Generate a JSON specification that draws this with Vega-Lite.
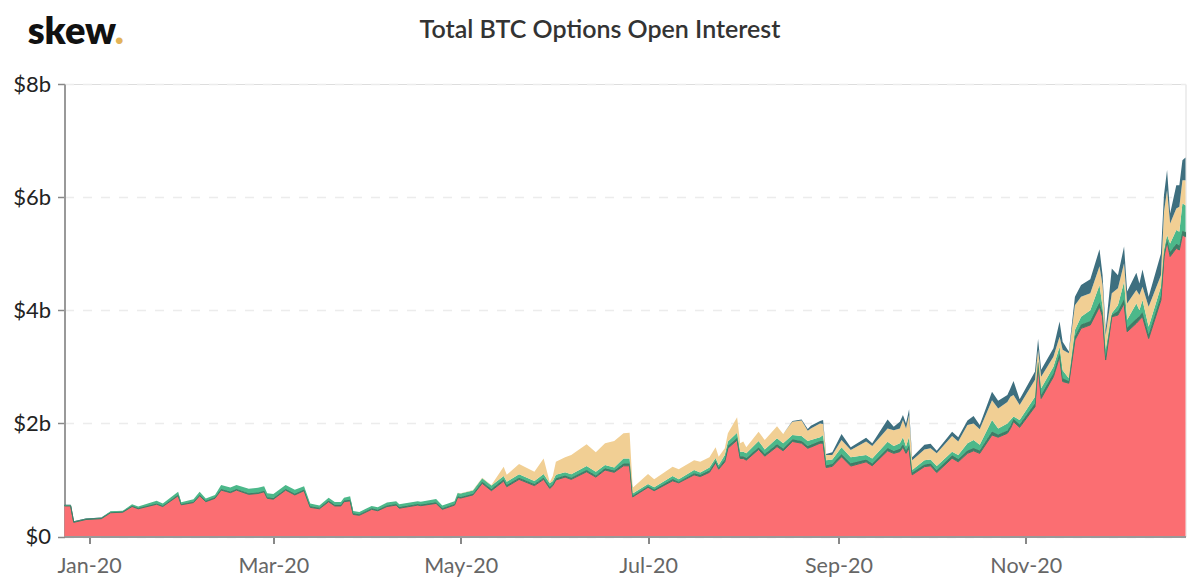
{
  "$schema": "https://vega.github.io/schema/vega-lite/v6.json",
  "background": "white",
  "autosize": "none",
  "padding": {"left": 64.5, "top": 84, "right": 14.5, "bottom": 49.5},
  "width": 1121,
  "height": 452.5,
  "title": {
    "text": "Total BTC Options Open Interest",
    "anchor": "middle",
    "frame": "group",
    "dx": -25,
    "offset": -49,
    "baseline": "alphabetic",
    "font": "Lato",
    "fontSize": 25,
    "fontWeight": 600,
    "color": "#333333"
  },
  "datasets": {
    "openInterest": [
      {"date":"2019-12-24","layer1":0.54,"layer2":0.01,"layer3":0.005,"layer4":0,"layer5":0.005},
      {"date":"2019-12-26","layer1":0.54,"layer2":0.01,"layer3":0.005,"layer4":0,"layer5":0.005},
      {"date":"2019-12-27","layer1":0.25,"layer2":0.01,"layer3":0.005,"layer4":0,"layer5":0.005},
      {"date":"2019-12-31","layer1":0.30,"layer2":0.01,"layer3":0.005,"layer4":0,"layer5":0.005},
      {"date":"2020-01-05","layer1":0.315,"layer2":0.01,"layer3":0.005,"layer4":0,"layer5":0.005},
      {"date":"2020-01-08","layer1":0.42,"layer2":0.01,"layer3":0.015,"layer4":0,"layer5":0},
      {"date":"2020-01-12","layer1":0.43,"layer2":0.01,"layer3":0.015,"layer4":0,"layer5":0},
      {"date":"2020-01-15","layer1":0.53,"layer2":0.015,"layer3":0.025,"layer4":0,"layer5":0},
      {"date":"2020-01-17","layer1":0.49,"layer2":0.015,"layer3":0.025,"layer4":0,"layer5":0},
      {"date":"2020-01-23","layer1":0.57,"layer2":0.015,"layer3":0.045,"layer4":0,"layer5":0},
      {"date":"2020-01-25","layer1":0.53,"layer2":0.015,"layer3":0.04,"layer4":0,"layer5":0},
      {"date":"2020-01-30","layer1":0.72,"layer2":0.02,"layer3":0.05,"layer4":0,"layer5":0},
      {"date":"2020-01-31","layer1":0.56,"layer2":0.015,"layer3":0.03,"layer4":0,"layer5":0},
      {"date":"2020-02-04","layer1":0.60,"layer2":0.015,"layer3":0.045,"layer4":0,"layer5":0},
      {"date":"2020-02-06","layer1":0.72,"layer2":0.02,"layer3":0.05,"layer4":0,"layer5":0},
      {"date":"2020-02-08","layer1":0.615,"layer2":0.015,"layer3":0.04,"layer4":0,"layer5":0},
      {"date":"2020-02-11","layer1":0.675,"layer2":0.02,"layer3":0.04,"layer4":0,"layer5":0},
      {"date":"2020-02-13","layer1":0.82,"layer2":0.02,"layer3":0.07,"layer4":0,"layer5":0},
      {"date":"2020-02-16","layer1":0.775,"layer2":0.02,"layer3":0.07,"layer4":0,"layer5":0},
      {"date":"2020-02-18","layer1":0.82,"layer2":0.02,"layer3":0.07,"layer4":0,"layer5":0},
      {"date":"2020-02-22","layer1":0.745,"layer2":0.02,"layer3":0.08,"layer4":0,"layer5":0},
      {"date":"2020-02-25","layer1":0.76,"layer2":0.02,"layer3":0.08,"layer4":0,"layer5":0},
      {"date":"2020-02-27","layer1":0.79,"layer2":0.02,"layer3":0.08,"layer4":0,"layer5":0},
      {"date":"2020-02-28","layer1":0.675,"layer2":0.02,"layer3":0.07,"layer4":0,"layer5":0},
      {"date":"2020-03-01","layer1":0.66,"layer2":0.02,"layer3":0.07,"layer4":0,"layer5":0},
      {"date":"2020-03-05","layer1":0.82,"layer2":0.02,"layer3":0.07,"layer4":0,"layer5":0},
      {"date":"2020-03-08","layer1":0.735,"layer2":0.02,"layer3":0.07,"layer4":0,"layer5":0},
      {"date":"2020-03-11","layer1":0.81,"layer2":0.02,"layer3":0.06,"layer4":0,"layer5":0},
      {"date":"2020-03-13","layer1":0.515,"layer2":0.02,"layer3":0.05,"layer4":0,"layer5":0},
      {"date":"2020-03-16","layer1":0.49,"layer2":0.02,"layer3":0.04,"layer4":0,"layer5":0},
      {"date":"2020-03-19","layer1":0.615,"layer2":0.02,"layer3":0.05,"layer4":0,"layer5":0},
      {"date":"2020-03-21","layer1":0.54,"layer2":0.02,"layer3":0.05,"layer4":0,"layer5":0},
      {"date":"2020-03-23","layer1":0.54,"layer2":0.02,"layer3":0.05,"layer4":0,"layer5":0},
      {"date":"2020-03-24","layer1":0.615,"layer2":0.02,"layer3":0.05,"layer4":0,"layer5":0},
      {"date":"2020-03-26","layer1":0.63,"layer2":0.02,"layer3":0.06,"layer4":0,"layer5":0},
      {"date":"2020-03-27","layer1":0.39,"layer2":0.02,"layer3":0.04,"layer4":0,"layer5":0},
      {"date":"2020-03-29","layer1":0.375,"layer2":0.02,"layer3":0.04,"layer4":0,"layer5":0},
      {"date":"2020-04-02","layer1":0.48,"layer2":0.02,"layer3":0.04,"layer4":0,"layer5":0},
      {"date":"2020-04-04","layer1":0.455,"layer2":0.02,"layer3":0.04,"layer4":0,"layer5":0},
      {"date":"2020-04-07","layer1":0.53,"layer2":0.02,"layer3":0.05,"layer4":0,"layer5":0},
      {"date":"2020-04-10","layer1":0.555,"layer2":0.02,"layer3":0.05,"layer4":0,"layer5":0},
      {"date":"2020-04-11","layer1":0.50,"layer2":0.02,"layer3":0.05,"layer4":0,"layer5":0},
      {"date":"2020-04-17","layer1":0.555,"layer2":0.02,"layer3":0.05,"layer4":0,"layer5":0},
      {"date":"2020-04-18","layer1":0.545,"layer2":0.02,"layer3":0.05,"layer4":0,"layer5":0},
      {"date":"2020-04-23","layer1":0.585,"layer2":0.02,"layer3":0.06,"layer4":0,"layer5":0},
      {"date":"2020-04-25","layer1":0.48,"layer2":0.02,"layer3":0.05,"layer4":0,"layer5":0},
      {"date":"2020-04-29","layer1":0.555,"layer2":0.02,"layer3":0.05,"layer4":0,"layer5":0},
      {"date":"2020-04-30","layer1":0.69,"layer2":0.02,"layer3":0.06,"layer4":0.005,"layer5":0},
      {"date":"2020-05-01","layer1":0.68,"layer2":0.02,"layer3":0.06,"layer4":0.005,"layer5":0},
      {"date":"2020-05-05","layer1":0.735,"layer2":0.02,"layer3":0.06,"layer4":0.005,"layer5":0},
      {"date":"2020-05-08","layer1":0.94,"layer2":0.03,"layer3":0.06,"layer4":0.01,"layer5":0},
      {"date":"2020-05-11","layer1":0.81,"layer2":0.03,"layer3":0.06,"layer4":0.01,"layer5":0},
      {"date":"2020-05-15","layer1":0.98,"layer2":0.03,"layer3":0.06,"layer4":0.165,"layer5":0},
      {"date":"2020-05-16","layer1":0.88,"layer2":0.03,"layer3":0.06,"layer4":0.12,"layer5":0},
      {"date":"2020-05-20","layer1":1.01,"layer2":0.03,"layer3":0.06,"layer4":0.18,"layer5":0},
      {"date":"2020-05-25","layer1":0.90,"layer2":0.03,"layer3":0.05,"layer4":0.165,"layer5":0},
      {"date":"2020-05-28","layer1":1.01,"layer2":0.03,"layer3":0.065,"layer4":0.275,"layer5":0},
      {"date":"2020-05-30","layer1":0.85,"layer2":0.03,"layer3":0.06,"layer4":0.02,"layer5":0},
      {"date":"2020-05-31","layer1":0.90,"layer2":0.03,"layer3":0.05,"layer4":0.09,"layer5":0},
      {"date":"2020-06-01","layer1":1.0,"layer2":0.03,"layer3":0.06,"layer4":0.23,"layer5":0},
      {"date":"2020-06-04","layer1":1.05,"layer2":0.03,"layer3":0.055,"layer4":0.265,"layer5":0},
      {"date":"2020-06-06","layer1":1.01,"layer2":0.03,"layer3":0.06,"layer4":0.34,"layer5":0},
      {"date":"2020-06-11","layer1":1.145,"layer2":0.03,"layer3":0.07,"layer4":0.385,"layer5":0},
      {"date":"2020-06-14","layer1":1.05,"layer2":0.03,"layer3":0.065,"layer4":0.345,"layer5":0},
      {"date":"2020-06-17","layer1":1.175,"layer2":0.03,"layer3":0.06,"layer4":0.385,"layer5":0},
      {"date":"2020-06-20","layer1":1.135,"layer2":0.03,"layer3":0.055,"layer4":0.47,"layer5":0},
      {"date":"2020-06-23","layer1":1.25,"layer2":0.04,"layer3":0.09,"layer4":0.445,"layer5":0},
      {"date":"2020-06-25","layer1":1.25,"layer2":0.04,"layer3":0.09,"layer4":0.455,"layer5":0},
      {"date":"2020-06-26","layer1":0.70,"layer2":0.02,"layer3":0.04,"layer4":0.10,"layer5":0},
      {"date":"2020-07-01","layer1":0.87,"layer2":0.02,"layer3":0.04,"layer4":0.175,"layer5":0},
      {"date":"2020-07-03","layer1":0.81,"layer2":0.02,"layer3":0.04,"layer4":0.14,"layer5":0},
      {"date":"2020-07-09","layer1":0.985,"layer2":0.03,"layer3":0.055,"layer4":0.165,"layer5":0},
      {"date":"2020-07-11","layer1":0.95,"layer2":0.02,"layer3":0.04,"layer4":0.18,"layer5":0},
      {"date":"2020-07-16","layer1":1.09,"layer2":0.03,"layer3":0.055,"layer4":0.175,"layer5":0},
      {"date":"2020-07-18","layer1":1.06,"layer2":0.03,"layer3":0.04,"layer4":0.19,"layer5":0},
      {"date":"2020-07-21","layer1":1.135,"layer2":0.03,"layer3":0.055,"layer4":0.18,"layer5":0},
      {"date":"2020-07-23","layer1":1.305,"layer2":0.03,"layer3":0.055,"layer4":0.19,"layer5":0},
      {"date":"2020-07-24","layer1":1.19,"layer2":0.03,"layer3":0.045,"layer4":0.145,"layer5":0},
      {"date":"2020-07-26","layer1":1.32,"layer2":0.04,"layer3":0.08,"layer4":0.12,"layer5":0},
      {"date":"2020-07-27","layer1":1.56,"layer2":0.04,"layer3":0.08,"layer4":0.145,"layer5":0},
      {"date":"2020-07-30","layer1":1.705,"layer2":0.04,"layer3":0.09,"layer4":0.275,"layer5":0},
      {"date":"2020-07-31","layer1":1.38,"layer2":0.04,"layer3":0.08,"layer4":0.15,"layer5":0},
      {"date":"2020-08-01","layer1":1.38,"layer2":0.04,"layer3":0.08,"layer4":0.18,"layer5":0},
      {"date":"2020-08-02","layer1":1.35,"layer2":0.04,"layer3":0.08,"layer4":0.11,"layer5":0},
      {"date":"2020-08-06","layer1":1.54,"layer2":0.04,"layer3":0.11,"layer4":0.16,"layer5":0},
      {"date":"2020-08-08","layer1":1.42,"layer2":0.04,"layer3":0.08,"layer4":0.165,"layer5":0},
      {"date":"2020-08-12","layer1":1.59,"layer2":0.04,"layer3":0.105,"layer4":0.215,"layer5":0},
      {"date":"2020-08-14","layer1":1.515,"layer2":0.04,"layer3":0.095,"layer4":0.16,"layer5":0},
      {"date":"2020-08-17","layer1":1.68,"layer2":0.04,"layer3":0.075,"layer4":0.235,"layer5":0.01},
      {"date":"2020-08-20","layer1":1.65,"layer2":0.04,"layer3":0.085,"layer4":0.275,"layer5":0.02},
      {"date":"2020-08-22","layer1":1.56,"layer2":0.04,"layer3":0.09,"layer4":0.18,"layer5":0.03},
      {"date":"2020-08-23","layer1":1.58,"layer2":0.04,"layer3":0.085,"layer4":0.205,"layer5":0.05},
      {"date":"2020-08-26","layer1":1.65,"layer2":0.04,"layer3":0.065,"layer4":0.245,"layer5":0.04},
      {"date":"2020-08-27","layer1":1.65,"layer2":0.04,"layer3":0.105,"layer4":0.195,"layer5":0.07},
      {"date":"2020-08-28","layer1":1.22,"layer2":0.04,"layer3":0.09,"layer4":0.09,"layer5":0.02},
      {"date":"2020-08-30","layer1":1.24,"layer2":0.04,"layer3":0.08,"layer4":0.08,"layer5":0.05},
      {"date":"2020-09-02","layer1":1.41,"layer2":0.05,"layer3":0.12,"layer4":0.125,"layer5":0.105},
      {"date":"2020-09-05","layer1":1.245,"layer2":0.05,"layer3":0.105,"layer4":0.13,"layer5":0.05},
      {"date":"2020-09-10","layer1":1.32,"layer2":0.04,"layer3":0.08,"layer4":0.24,"layer5":0.065},
      {"date":"2020-09-12","layer1":1.25,"layer2":0.04,"layer3":0.09,"layer4":0.22,"layer5":0.05},
      {"date":"2020-09-17","layer1":1.515,"layer2":0.05,"layer3":0.11,"layer4":0.235,"layer5":0.16},
      {"date":"2020-09-19","layer1":1.47,"layer2":0.04,"layer3":0.09,"layer4":0.28,"layer5":0.06},
      {"date":"2020-09-21","layer1":1.50,"layer2":0.05,"layer3":0.10,"layer4":0.26,"layer5":0.12},
      {"date":"2020-09-22","layer1":1.58,"layer2":0.05,"layer3":0.125,"layer4":0.305,"layer5":0.09},
      {"date":"2020-09-23","layer1":1.47,"layer2":0.05,"layer3":0.07,"layer4":0.32,"layer5":0.09},
      {"date":"2020-09-24","layer1":1.56,"layer2":0.05,"layer3":0.155,"layer4":0.385,"layer5":0.10},
      {"date":"2020-09-25","layer1":1.09,"layer2":0.04,"layer3":0.045,"layer4":0.175,"layer5":0.05},
      {"date":"2020-09-29","layer1":1.235,"layer2":0.04,"layer3":0.075,"layer4":0.19,"layer5":0.08},
      {"date":"2020-10-01","layer1":1.25,"layer2":0.04,"layer3":0.07,"layer4":0.20,"layer5":0.08},
      {"date":"2020-10-03","layer1":1.13,"layer2":0.04,"layer3":0.075,"layer4":0.225,"layer5":0.045},
      {"date":"2020-10-08","layer1":1.385,"layer2":0.05,"layer3":0.065,"layer4":0.275,"layer5":0.075},
      {"date":"2020-10-10","layer1":1.32,"layer2":0.05,"layer3":0.07,"layer4":0.24,"layer5":0.075},
      {"date":"2020-10-13","layer1":1.47,"layer2":0.05,"layer3":0.13,"layer4":0.32,"layer5":0.08},
      {"date":"2020-10-15","layer1":1.515,"layer2":0.05,"layer3":0.14,"layer4":0.295,"layer5":0.13},
      {"date":"2020-10-17","layer1":1.47,"layer2":0.05,"layer3":0.10,"layer4":0.275,"layer5":0.075},
      {"date":"2020-10-21","layer1":1.795,"layer2":0.06,"layer3":0.205,"layer4":0.35,"layer5":0.15},
      {"date":"2020-10-23","layer1":1.755,"layer2":0.05,"layer3":0.105,"layer4":0.355,"layer5":0.135},
      {"date":"2020-10-26","layer1":1.825,"layer2":0.05,"layer3":0.125,"layer4":0.38,"layer5":0.12},
      {"date":"2020-10-27","layer1":1.91,"layer2":0.05,"layer3":0.10,"layer4":0.41,"layer5":0.15},
      {"date":"2020-10-28","layer1":2.03,"layer2":0.05,"layer3":0.04,"layer4":0.38,"layer5":0.25},
      {"date":"2020-10-30","layer1":1.93,"layer2":0.05,"layer3":0.08,"layer4":0.265,"layer5":0.10},
      {"date":"2020-11-04","layer1":2.295,"layer2":0.06,"layer3":0.115,"layer4":0.30,"layer5":0.145},
      {"date":"2020-11-05","layer1":3.06,"layer2":0.02,"layer3":0.04,"layer4":0.18,"layer5":0.19},
      {"date":"2020-11-06","layer1":2.44,"layer2":0.06,"layer3":0.12,"layer4":0.205,"layer5":0.125},
      {"date":"2020-11-10","layer1":2.825,"layer2":0.06,"layer3":0.115,"layer4":0.18,"layer5":0.15},
      {"date":"2020-11-12","layer1":3.18,"layer2":0.06,"layer3":0.115,"layer4":0.175,"layer5":0.27},
      {"date":"2020-11-13","layer1":2.74,"layer2":0.06,"layer3":0.14,"layer4":0.36,"layer5":0.145},
      {"date":"2020-11-15","layer1":2.71,"layer2":0.04,"layer3":0.05,"layer4":0.44,"layer5":0.03},
      {"date":"2020-11-17","layer1":3.475,"layer2":0.06,"layer3":0.115,"layer4":0.44,"layer5":0.15},
      {"date":"2020-11-19","layer1":3.68,"layer2":0.07,"layer3":0.135,"layer4":0.355,"layer5":0.205},
      {"date":"2020-11-22","layer1":3.74,"layer2":0.07,"layer3":0.19,"layer4":0.30,"layer5":0.25},
      {"date":"2020-11-25","layer1":4.06,"layer2":0.08,"layer3":0.305,"layer4":0.335,"layer5":0.30},
      {"date":"2020-11-26","layer1":3.885,"layer2":0.07,"layer3":0.105,"layer4":0.385,"layer5":0.175},
      {"date":"2020-11-27","layer1":3.12,"layer2":0.06,"layer3":0.12,"layer4":0.26,"layer5":0.09},
      {"date":"2020-11-29","layer1":3.885,"layer2":0.03,"layer3":0.03,"layer4":0.355,"layer5":0.44},
      {"date":"2020-12-01","layer1":3.915,"layer2":0.07,"layer3":0.105,"layer4":0.30,"layer5":0.23},
      {"date":"2020-12-03","layer1":4.12,"layer2":0.08,"layer3":0.305,"layer4":0.325,"layer5":0.295},
      {"date":"2020-12-04","layer1":3.62,"layer2":0.07,"layer3":0.14,"layer4":0.29,"layer5":0.21},
      {"date":"2020-12-07","layer1":3.77,"layer2":0.08,"layer3":0.27,"layer4":0.24,"layer5":0.305},
      {"date":"2020-12-08","layer1":3.83,"layer2":0.07,"layer3":0.10,"layer4":0.27,"layer5":0.205},
      {"date":"2020-12-09","layer1":3.885,"layer2":0.08,"layer3":0.215,"layer4":0.235,"layer5":0.305},
      {"date":"2020-12-11","layer1":3.50,"layer2":0.07,"layer3":0.14,"layer4":0.35,"layer5":0.18},
      {"date":"2020-12-15","layer1":4.18,"layer2":0.08,"layer3":0.155,"layer4":0.205,"layer5":0.38},
      {"date":"2020-12-16","layer1":4.95,"layer2":0.04,"layer3":0.075,"layer4":0.675,"layer5":0.30},
      {"date":"2020-12-17","layer1":5.21,"layer2":0.04,"layer3":0.08,"layer4":0.795,"layer5":0.355},
      {"date":"2020-12-18","layer1":4.95,"layer2":0.08,"layer3":0.15,"layer4":0.355,"layer5":0.175},
      {"date":"2020-12-20","layer1":5.095,"layer2":0.08,"layer3":0.245,"layer4":0.38,"layer5":0.41},
      {"date":"2020-12-21","layer1":5.065,"layer2":0.08,"layer3":0.245,"layer4":0.44,"layer5":0.38},
      {"date":"2020-12-22","layer1":5.33,"layer2":0.08,"layer3":0.48,"layer4":0.41,"layer5":0.35},
      {"date":"2020-12-23","layer1":5.30,"layer2":0.08,"layer3":0.47,"layer4":0.45,"layer5":0.40}
    ]
  },
  "layer": [
    {
      "data": {"name": "openInterest"},
      "transform": [
        {"fold": ["layer1", "layer2", "layer3", "layer4", "layer5"], "as": ["band", "value"]}
      ],
      "mark": {"type": "area", "interpolate": "linear", "strokeWidth": 1},
      "encoding": {
        "x": {
          "field": "date",
          "type": "temporal",
          "scale": {
            "type": "utc",
            "domain": [
              {"year": 2019, "month": 12, "date": 24, "utc": true},
              {"year": 2020, "month": 12, "date": 23, "utc": true}
            ]
          },
          "axis": {
            "title": null,
            "grid": false,
            "zindex": 1,
            "values": [
              {"year": 2020, "month": 1, "date": 1, "utc": true},
              {"year": 2020, "month": 3, "date": 1, "utc": true},
              {"year": 2020, "month": 5, "date": 1, "utc": true},
              {"year": 2020, "month": 7, "date": 1, "utc": true},
              {"year": 2020, "month": 9, "date": 1, "utc": true},
              {"year": 2020, "month": 11, "date": 1, "utc": true}
            ],
            "format": "%b-%y",
            "labelFont": "Lato",
            "labelFontSize": 21.5,
            "labelColor": "#666666",
            "labelPadding": 12,
            "labelFlush": false,
            "tickColor": "#888888",
            "tickSize": 7,
            "tickWidth": 2,
            "domainColor": "#999999",
            "domainWidth": 2
          }
        },
        "y": {
          "field": "value",
          "type": "quantitative",
          "stack": "zero",
          "scale": {"domain": [0, 8], "nice": false},
          "axis": {
            "title": null,
            "zindex": 0,
            "values": [0, 2, 4, 6, 8],
            "labelExpr": "datum.value === 0 ? '$0' : '$' + datum.value + 'b'",
            "labelFont": "Lato",
            "labelFontSize": 22,
            "labelColor": "#222222",
            "labelPadding": 7,
            "tickColor": "#888888",
            "tickSize": 7,
            "tickWidth": 1.5,
            "domainColor": "#999999",
            "domainWidth": 2,
            "grid": true,
            "gridColor": "#ececec",
            "gridDash": [9, 9],
            "gridWidth": 1.5
          }
        },
        "color": {
          "field": "band",
          "type": "nominal",
          "legend": null,
          "scale": {
            "domain": ["layer1", "layer2", "layer3", "layer4", "layer5"],
            "range": ["#fb6e72", "#3f7c66", "#4cb88a", "#f1cf94", "#3e6f7f"]
          }
        },
        "stroke": {
          "condition": {"test": "datum.band === 'layer2'", "value": "#3f7c66"},
          "value": null
        },
        "order": {"field": "band", "type": "nominal", "sort": "ascending"}
      }
    },
    {
      "data": {"values": [{"label": "skew"}]},
      "mark": {"type": "text", "align": "left", "baseline": "alphabetic", "font": "Lato", "fontSize": 38, "fontWeight": 800, "color": "#111111"},
      "encoding": {
        "x": {"datum": {"year": 2019, "month": 12, "date": 12, "utc": true}, "type": "temporal"},
        "y": {"datum": 8.71, "type": "quantitative"},
        "text": {"field": "label", "type": "nominal"}
      }
    },
    {
      "data": {"values": [{"label": "."}]},
      "mark": {"type": "text", "align": "left", "baseline": "alphabetic", "font": "Lato", "fontSize": 38, "fontWeight": 800, "color": "#e3b358", "dx": 87},
      "encoding": {
        "x": {"datum": {"year": 2019, "month": 12, "date": 12, "utc": true}, "type": "temporal"},
        "y": {"datum": 8.71, "type": "quantitative"},
        "text": {"field": "label", "type": "nominal"}
      }
    }
  ]
}
